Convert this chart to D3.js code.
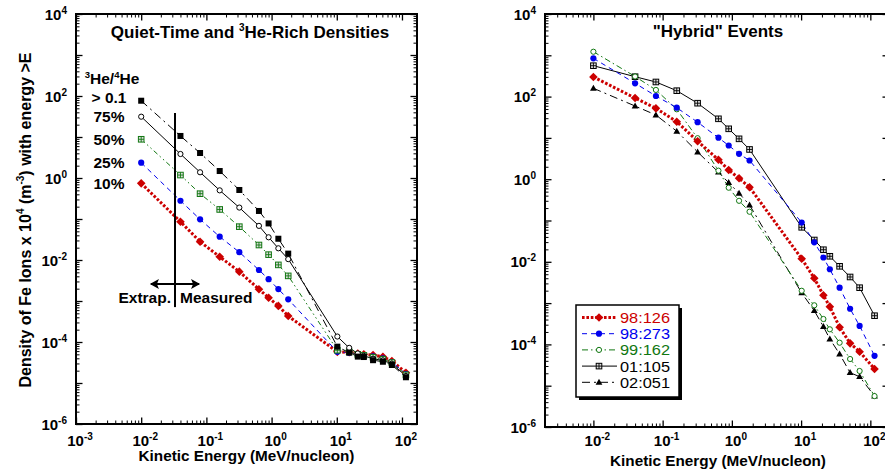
<!DOCTYPE html>
<html>
<head>
<meta charset="utf-8">
<script src="https://cdn.jsdelivr.net/npm/d3@7"></script>
<style>
  body { margin: 0; background: #fff; }
  text { font-family: "Liberation Sans", Arial, Helvetica, sans-serif; }
</style>
</head>
<body>
<svg id="chart" width="885" height="474"></svg>
<script>
// energy thresholds (MeV/nucleon), same bins in both panels
var energies = [0.01, 0.04, 0.08, 0.16, 0.32, 0.64, 0.9, 1.27, 1.8,
                10.2, 15.5, 21, 26, 36, 51, 70, 115];

// left panel: quiet-time / 3He-rich classes (density x 10^4, m^-3)
var qtNames = ["> 0.1", "75%", "50%", "25%", "10%"];
var qtGt01 = [76.7, 10.6, 4.07, 1.48, 0.51, 0.157, 0.078, 0.033, 0.0143,
              7.7e-5, 5.5e-5, 4.4e-5, 4.3e-5, 3.6e-5, 3.3e-5, 2.75e-5, 1.38e-5];
var qt75 = [31.3, 3.85, 1.38, 0.50, 0.19, 0.068, 0.0358, 0.0193, 0.0105,
            1.36e-4, 7.2e-5, 5.25e-5, 4.6e-5, 3.9e-5, 3.55e-5, 2.95e-5, 1.48e-5];
var qt50 = [8.8, 1.18, 0.414, 0.171, 0.065, 0.0232, 0.0135, 0.0076, 0.0041,
            6.3e-5, 5.75e-5, 5.0e-5, 4.7e-5, 4.25e-5, 3.8e-5, 3.15e-5, 1.58e-5];
var qt25 = [2.36, 0.279, 0.098, 0.037, 0.0155, 0.0057, 0.0034, 0.00195, 0.0011,
            5.75e-5, 5.5e-5, 5.0e-5, 4.8e-5, 4.45e-5, 4.0e-5, 3.25e-5, 1.66e-5];
var qt10 = [0.74, 0.086, 0.0279, 0.012, 0.0052, 0.00193, 0.0012, 0.00076, 0.00043,
            5.75e-5, 5.6e-5, 5.25e-5, 5.0e-5, 4.8e-5, 4.35e-5, 3.45e-5, 1.78e-5];

// right panel: "hybrid" events
var hyNames = ["98:126", "98:273", "99:162", "01:105", "02:051"];
var ev98126 = [299, 92.5, 52, 24.7, 8.3, 2.96, 1.67, 1.05, 0.64,
               0.0119, 0.0040, 0.00155, 8.2e-4, 2.6e-4, 1.06e-4, 6.65e-5, 2.54e-5];
var ev98273 = [845, 210, 103.5, 53.8, 24, 10.1, 6.55, 4.12, 2.84,
               0.0895, 0.0296, 0.0127, 0.0066, 0.00236, 7.3e-4, 2.8e-4, 5.3e-5];
var ev99162 = [1220, 307, 145, 49.3, 9.84, 1.61, 0.622, 0.30, 0.163,
               0.00199, 8.85e-4, 4.12e-4, 2.32e-4, 1.1e-4, 4.43e-5, 2.27e-5, 5.6e-6];
var ev01105 = [560, 303, 226, 139, 69.2, 29, 16.6, 9.5, 5.25,
               0.0684, 0.0337, 0.0196, 0.0136, 0.00778, 0.00429, 0.00236, 4.95e-4];
var ev02051 = [159, 59.2, 35.8, 14.5, 4.56, 1.48, 0.822, 0.456, 0.237,
               0.00176, 6.55e-4, 2.69e-4, 1.35e-4, 5.86e-5, 2.07e-5, 1.65e-5, 5.6e-6];

// tick labels (exponents)
var leftXExp = [-3, -2, -1, 0, 1, 2];
var rightXExp = [-2, -1, 0, 1, 2];
var yExp = [4, 2, 0, -2, -4, -6];

// extrapolated / measured marker (data units)
var splitE = 0.033, splitTop = 38.5, splitBottom = 7.1e-4;
var arrowY = 2.6e-3, arrowFrom = 0.0136, arrowTo = 0.08;

var svg = d3.select("#chart");

var styles = {
  dotRed:   { color: "#cc0000", width: 3,   dash: "2.6,1.8" },
  dashBlue: { color: "#0000ee", width: 1,   dash: "5,4" },
  ddGreen:  { color: "#117711", width: 1,   dash: "6,3,1.5,3" },
  dd2Green: { color: "#117711", width: 1,   dash: "5,3,1.5,3,1.5,3" },
  solid:    { color: "#000",    width: 1,   dash: null },
  ddBlack:  { color: "#000",    width: 1,   dash: "8,4,2,4" }
};

function drawMarker(g, type, color, px, py) {
  if (type === "square") {
    g.append("rect").attr("x", px - 3).attr("y", py - 3).attr("width", 6).attr("height", 6)
      .attr("fill", color);
  } else if (type === "ocircle") {
    g.append("circle").attr("cx", px).attr("cy", py).attr("r", 2.6)
      .attr("fill", "#fff").attr("stroke", color).attr("stroke-width", 1);
  } else if (type === "circle") {
    g.append("circle").attr("cx", px).attr("cy", py).attr("r", 3.1).attr("fill", color);
  } else if (type === "diamond") {
    g.append("path").attr("d", "M" + px + "," + (py - 4.3) + "L" + (px + 4.3) + "," + py +
      "L" + px + "," + (py + 4.3) + "L" + (px - 4.3) + "," + py + "Z").attr("fill", color);
  } else if (type === "triangle") {
    g.append("path").attr("d", "M" + px + "," + (py - 3.6) + "L" + (px + 3.4) + "," + (py + 2.4) +
      "L" + (px - 3.4) + "," + (py + 2.4) + "Z").attr("fill", color);
  } else if (type === "xsquare") {
    g.append("rect").attr("x", px - 2.8).attr("y", py - 2.8).attr("width", 5.6).attr("height", 5.6)
      .attr("fill", "#ddd").attr("stroke", color).attr("stroke-width", 1);
    g.append("path").attr("d", "M" + (px - 2.8) + "," + py + "H" + (px + 2.8) +
      "M" + px + "," + (py - 2.8) + "V" + (py + 2.8))
      .attr("stroke", color).attr("stroke-width", 0.9);
  }
}

function powLabel(sel, exp, supSize, supDy) {
  sel.append("tspan").text("10");
  sel.append("tspan").attr("font-size", supSize).attr("dy", supDy).text(exp);
}

function panel(cfg) {
  var x = d3.scaleLog().domain(cfg.xDomain).range(cfg.xRange);
  var y = d3.scaleLog().domain([1e-6, 1e4]).range([cfg.yBottom, cfg.yTop]);
  var g = svg.append("g");

  var isPow = function (v) { return Math.abs(Math.log10(v) - Math.round(Math.log10(v))) < 1e-6; };
  var xMinor = x.ticks(40).filter(function (v) { return !isPow(v); });
  var xMajor = x.ticks(40).filter(isPow);
  var yMinor = y.ticks(60).filter(function (v) { return !isPow(v); });
  var yMajor = y.ticks(60).filter(isPow);

  function ax(gen, pos, transform) {
    var a = g.append("g").attr("transform", transform)
      .call(gen.tickValues(pos === "x" ? xMinor : yMinor).tickSize(-3.5).tickSizeOuter(0).tickFormat(""));
    a.select(".domain").remove();
    a.selectAll("line").attr("stroke-width", 1);
    var a2 = g.append("g").attr("transform", transform)
      .call(gen.tickValues(pos === "x" ? xMajor : yMajor).tickSize(-6.5).tickSizeOuter(0).tickFormat(""));
    a2.select(".domain").remove();
    a2.selectAll("line").attr("stroke-width", 1.3);
  }
  ax(d3.axisBottom(x), "x", "translate(0," + cfg.yBottom + ")");
  ax(d3.axisTop(x), "x", "translate(0," + cfg.yTop + ")");
  ax(d3.axisLeft(y), "y", "translate(" + cfg.xRange[0] + ",0)");
  ax(d3.axisRight(y), "y", "translate(" + cfg.xRange[1] + ",0)");

  g.append("rect").attr("x", cfg.xRange[0]).attr("y", cfg.yTop)
    .attr("width", cfg.xRange[1] - cfg.xRange[0]).attr("height", cfg.yBottom - cfg.yTop)
    .attr("fill", "none").attr("stroke", "#000").attr("stroke-width", 2);

  // tick labels
  cfg.xExp.forEach(function (e) {
    var t = g.append("text").attr("x", x(Math.pow(10, e)) + 4).attr("y", 445.5)
      .attr("text-anchor", "middle").attr("font-weight", "bold").attr("font-size", 15);
    powLabel(t, e, 10, -6);
  });
  yExp.forEach(function (e) {
    var t = g.append("text").attr("x", cfg.xRange[0] - 9).attr("y", y(Math.pow(10, e)) + 5.5)
      .attr("text-anchor", "end").attr("font-weight", "bold").attr("font-size", 15);
    powLabel(t, e, 10, -6);
  });

  g.append("text").attr("x", (cfg.xRange[0] + Math.min(cfg.xRange[1], 885)) / 2 + cfg.xTitleShift)
    .attr("y", cfg.xTitleY).attr("text-anchor", "middle")
    .attr("font-weight", "bold").attr("font-size", 15.3).text("Kinetic Energy (MeV/nucleon)");

  var line = d3.line().x(function (d) { return x(d[0]); }).y(function (d) { return y(d[1]); });
  cfg.series.forEach(function (s) {
    var pts = energies.map(function (e, i) { return [e, s.values[i]]; });
    var st = styles[s.style];
    g.append("path").datum(pts).attr("d", line).attr("fill", "none")
      .attr("stroke", st.color).attr("stroke-width", st.width)
      .attr("stroke-dasharray", st.dash);
  });
  cfg.series.forEach(function (s) {
    var st = styles[s.style];
    energies.forEach(function (e, i) {
      drawMarker(g, s.marker, st.color, x(e), y(s.values[i]));
    });
  });
  return { g: g, x: x, y: y };
}

// ---- left panel
var L = panel({
  xDomain: [1e-3, 170], xRange: [76, 417], yTop: 14, yBottom: 424,
  xExp: leftXExp, xTitleY: 461, xTitleShift: 0,
  series: [
    { values: qtGt01, style: "ddBlack", marker: "square" },
    { values: qt75, style: "solid", marker: "ocircle" },
    { values: qt50, style: "dd2Green", marker: "xsquare" },
    { values: qt25, style: "dashBlue", marker: "circle" },
    { values: qt10, style: "dotRed", marker: "diamond" }
  ].reverse()
});

var lt = L.g.append("text").attr("x", 250).attr("y", 38).attr("text-anchor", "middle")
  .attr("font-weight", "bold").attr("font-size", 17);
lt.append("tspan").text("Quiet-Time and ");
lt.append("tspan").attr("font-size", 10).attr("dy", -7).text("3");
lt.append("tspan").attr("dy", 7).text("He-Rich Densities");

var hd = L.g.append("text").attr("x", 112).attr("y", 84).attr("text-anchor", "middle")
  .attr("font-weight", "bold").attr("font-size", 15.5);
hd.append("tspan").attr("font-size", 9.5).attr("dy", -6).text("3");
hd.append("tspan").attr("dy", 6).text("He/");
hd.append("tspan").attr("font-size", 9.5).attr("dy", -6).text("4");
hd.append("tspan").attr("dy", 6).text("He");

[qtGt01, qt75, qt50, qt25, qt10].forEach(function (vals, i) {
  L.g.append("text").attr("x", 109).attr("y", L.y(vals[0]) + (i === 0 ? 2.5 : 5.5))
    .attr("text-anchor", "middle").attr("font-weight", "bold").attr("font-size", 15.5)
    .text(qtNames[i]);
});

L.g.append("line").attr("x1", L.x(splitE)).attr("x2", L.x(splitE))
  .attr("y1", L.y(splitTop)).attr("y2", L.y(splitBottom))
  .attr("stroke", "#000").attr("stroke-width", 2);
var ax1 = L.x(arrowFrom), ax2 = L.x(arrowTo), ay = L.y(arrowY);
L.g.append("line").attr("x1", ax1 + 1).attr("x2", ax2 - 1).attr("y1", ay).attr("y2", ay)
  .attr("stroke", "#000").attr("stroke-width", 2);
L.g.append("path").attr("d", "M" + ax1 + "," + ay + "l9,-5l-2,5l2,5z").attr("fill", "#000");
L.g.append("path").attr("d", "M" + ax2 + "," + ay + "l-9,-5l2,5l-2,5z").attr("fill", "#000");
L.g.append("text").attr("x", L.x(splitE) - 4).attr("y", ay + 19).attr("text-anchor", "end")
  .attr("font-weight", "bold").attr("font-size", 15.5).text("Extrap.");
L.g.append("text").attr("x", L.x(splitE) + 5).attr("y", ay + 19).attr("text-anchor", "start")
  .attr("font-weight", "bold").attr("font-size", 15.5).text("Measured");

// y axis title
var yt = svg.append("text").attr("transform", "translate(31,220) rotate(-90)")
  .attr("text-anchor", "middle").attr("font-weight", "bold").attr("font-size", 16);
yt.append("tspan").text("Density of Fe Ions x 10");
yt.append("tspan").attr("font-size", 10).attr("dy", -7).text("4");
yt.append("tspan").attr("dy", 7).text(" (m");
yt.append("tspan").attr("font-size", 10).attr("dy", -7).text("-3");
yt.append("tspan").attr("dy", 7).text(") with energy >E");

// ---- right panel
var hySeries = [
  { values: ev98126, style: "dotRed", marker: "diamond" },
  { values: ev98273, style: "dashBlue", marker: "circle" },
  { values: ev99162, style: "ddGreen", marker: "ocircle" },
  { values: ev01105, style: "solid", marker: "xsquare" },
  { values: ev02051, style: "ddBlack", marker: "triangle" }
];
var R = panel({
  xDomain: [0.002, 186], xRange: [545, 889], yTop: 14, yBottom: 427,
  xExp: rightXExp, xTitleY: 466, xTitleShift: 3,
  series: hySeries.slice().reverse()
});
R.g.append("text").attr("x", 718).attr("y", 37).attr("text-anchor", "middle")
  .attr("font-weight", "bold").attr("font-size", 17).text("\"Hybrid\" Events");

// legend
var lg = R.g.append("g");
lg.append("rect").attr("x", 579).attr("y", 308).attr("width", 103).attr("height", 92).attr("fill", "#000");
lg.append("rect").attr("x", 576).attr("y", 305).attr("width", 103).attr("height", 92)
  .attr("fill", "#fff").attr("stroke", "#000").attr("stroke-width", 1.5);
hySeries.forEach(function (s, i) {
  var st = styles[s.style];
  var ly = 317.5 + i * 16.2;
  lg.append("line").attr("x1", 582).attr("x2", 617).attr("y1", ly).attr("y2", ly)
    .attr("stroke", st.color).attr("stroke-width", st.width).attr("stroke-dasharray", st.dash);
  drawMarker(lg, s.marker, st.color, 599, ly);
  lg.append("text").attr("x", 620).attr("y", ly + 5.5).attr("font-size", 14)
    .attr("textLength", 50).attr("lengthAdjust", "spacingAndGlyphs")
    .attr("fill", st.color).text(hyNames[i]);
});
</script>
</body>
</html>
